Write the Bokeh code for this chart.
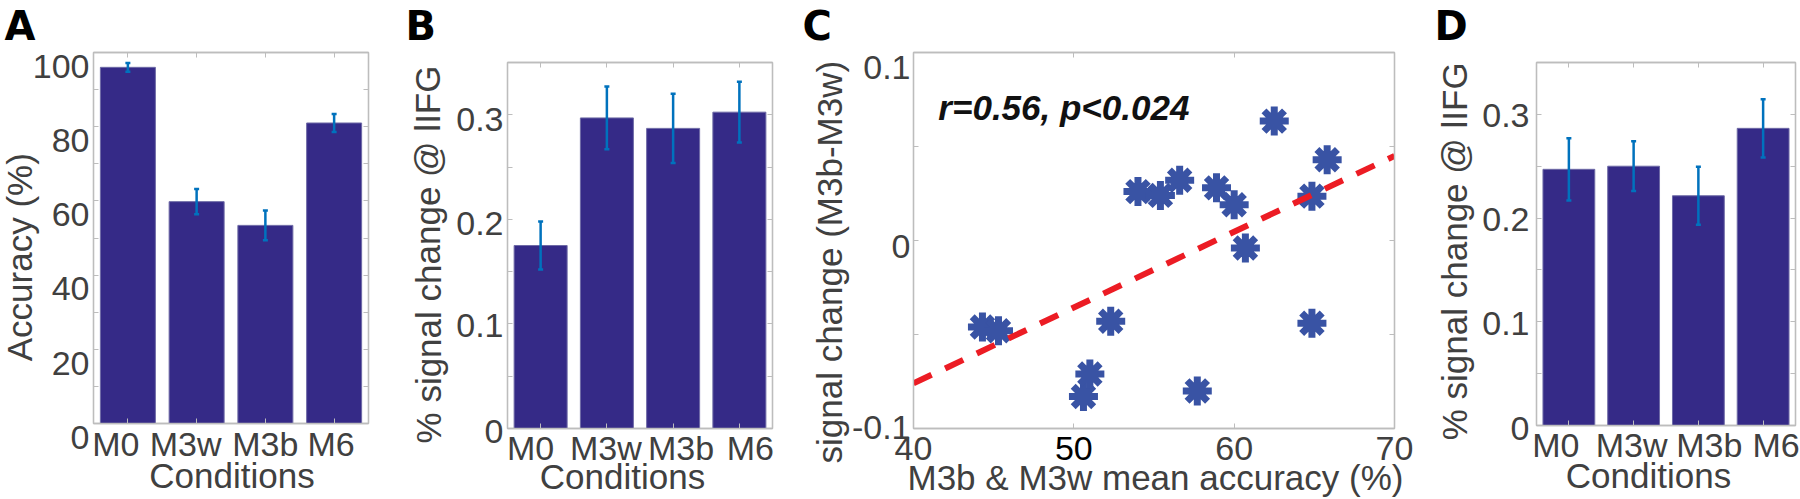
import math
from bokeh.plotting import figure
from bokeh.models import (Range1d, FixedTicker, LinearAxis, Label, LabelSet,
                          ColumnDataSource, Whisker, TeeHead, CustomJSTickFormatter,
                          GridBox)
from bokeh.layouts import row
from bokeh.embed import file_html
from bokeh.resources import INLINE

# ---------------- data ----------------
conditions = ["M0", "M3w", "M3b", "M6"]

accuracy_mean = [96.0, 59.8, 53.4, 81.0]
accuracy_err = [1.2, 3.4, 4.0, 2.4]

ifg_b_mean = [0.175, 0.297, 0.287, 0.3025]
ifg_b_err = [0.023, 0.030, 0.033, 0.029]

ifg_d_mean = [0.247, 0.250, 0.2215, 0.2865]
ifg_d_err = [0.030, 0.024, 0.028, 0.028]

scatter_acc = [44.3, 45.3, 50.6, 51.0, 52.3, 54.0, 55.4, 56.6, 57.7, 58.9,
               60.0, 60.7, 62.5, 64.85, 64.85, 65.8]
scatter_sig = [-0.046, -0.048, -0.083, -0.071, -0.043, 0.026, 0.024, 0.032,
               -0.080, 0.028, 0.019, -0.004, 0.0635, 0.0236, -0.044, 0.043]
fit_x = [40, 70]
fit_y = [-0.076, 0.045]

acc_ticks = [0, 20, 40, 60, 80, 100]
acc_minor = [10, 30, 50, 70, 90]
acc_labels = ["0", "20", "40", "60", "80", "100"]
sig_ticks = [0, 0.1, 0.2, 0.3]
sig_minor = [0.05, 0.15, 0.25]
sig_labels = ["0", "0.1", "0.2", "0.3"]
corr_x_ticks = [40, 50, 60, 70]
corr_x_labels = ["40", "50", "60", "70"]
corr_y_ticks = [-0.1, 0, 0.1]
corr_y_minor = [-0.05, 0.05]
corr_y_labels = ["-0.1", "0", "0.1"]
corr_text = "r=0.56, p<0.024"

# ---------------- style / layout ----------------
FONT = "Liberation Sans"
LETTER_FONT = "DejaVu Sans"
TXT = "#404040"
FRAME = "#bdbdbd"
BAR = "#352A87"
ERR = "#0072BD"
STAR = "#3953A4"
FIT = "#EC1C24"
TICK_FS = "34px"
LAB_FS = "35px"
LEFT, TOP = 0, 0          # page origin of the layout
W, H = 1800, 499          # overall size
CAP_MID = 12.2            # baseline -> middle of capitals at 34px

# page-pixel geometry: figure x-extent and frame (left, right, top, bottom)
GEO = {
    "A": dict(fig=(0, 395), frame=(93, 368, 52, 423)),
    "B": dict(fig=(395, 783), frame=(507, 772, 62, 428)),
    "C": dict(fig=(783, 1420), frame=(913, 1394, 52, 428)),
    "D": dict(fig=(1420, 1800), frame=(1536, 1795, 62, 425)),
}

ROWS = []   # all texts outside the plot frames, in page pixels


def make_fig(key, xr, yr):
    g = GEO[key]
    fx0, fx1 = g["fig"]
    l, r, t, b = g["frame"]
    p = figure(width=fx1 - fx0, height=H, x_range=xr, y_range=yr,
               output_backend="svg", toolbar_location=None, tools="",
               min_border_left=l - fx0, min_border_right=fx1 - r,
               min_border_top=t - TOP, min_border_bottom=TOP + H - b,
               frame_align=False)
    p.grid.visible = False
    p.outline_line_color = FRAME
    p.outline_line_width = 1.3
    p.background_fill_color = "white"
    p.border_fill_color = "white"
    return p


def style_axis(ax, ticker):
    ax.ticker = ticker
    ax.formatter = CustomJSTickFormatter(code="return ''")
    ax.major_label_text_color = None
    ax.major_label_standoff = 0
    ax.axis_line_color = FRAME
    ax.axis_line_width = 1.3
    ax.major_tick_line_color = FRAME
    ax.minor_tick_line_color = FRAME
    ax.major_tick_in = 5
    ax.major_tick_out = 0
    ax.minor_tick_in = 5
    ax.minor_tick_out = 0


def add_axes(p, xticker, yticker):
    style_axis(p.xaxis[0], xticker)
    style_axis(p.yaxis[0], yticker)
    top = LinearAxis()
    style_axis(top, xticker)
    p.add_layout(top, "above")
    right = LinearAxis()
    style_axis(right, yticker)
    p.add_layout(right, "right")


def add_text(x, y, text, size=LAB_FS, align="center", angle=0.0,
             font=FONT, style="normal", color=TXT):
    ROWS.append(dict(x=x, y=y, text=text, size=size, align=align,
                     angle=angle, font=font, style=style, color=color))


class Panel:
    def __init__(self, key, xr, yr):
        self.key, self.xr, self.yr = key, xr, yr

    def px(self, v):
        l, r, t, b = GEO[self.key]["frame"]
        return l + (v - self.xr[0]) / (self.xr[1] - self.xr[0]) * (r - l)

    def py(self, v):
        l, r, t, b = GEO[self.key]["frame"]
        return b - (v - self.yr[0]) / (self.yr[1] - self.yr[0]) * (b - t)

    def yticks(self, ticks, labels, shifts, gap=4):
        l = GEO[self.key]["frame"][0]
        for t, s, sh in zip(ticks, labels, shifts):
            add_text(l - gap, self.py(t) + sh + CAP_MID, s, size=TICK_FS,
                     align="right")

    def xticks(self, ticks, labels, baseline, offsets=None, colors=None):
        offsets = offsets or [0] * len(ticks)
        colors = colors or [TXT] * len(ticks)
        for t, s, o, c in zip(ticks, labels, offsets, colors):
            add_text(self.px(t) + o, baseline, s, size=TICK_FS, color=c)


def letter(x, y, text):
    add_text(x, y, text, size="40px", align="left", font=LETTER_FONT,
             style="bold", color="black")


def bar_panel(key, means, errs, ymax, yticks, yminor):
    xs = list(range(1, len(conditions) + 1))
    xr = (0.5, len(conditions) + 0.5)
    p = make_fig(key, Range1d(*xr), Range1d(0, ymax))
    p.vbar(x=xs, top=means, width=0.8, fill_color=BAR,
           line_color="#6e6aa6", line_width=1)
    src = ColumnDataSource(dict(base=xs,
                                upper=[m + e for m, e in zip(means, errs)],
                                lower=[m - e for m, e in zip(means, errs)]))
    p.add_layout(Whisker(base="base", upper="upper", lower="lower", source=src,
                         level="annotation", line_color=ERR, line_width=2.5,
                         upper_head=TeeHead(size=5, line_color=ERR, line_width=2.5),
                         lower_head=TeeHead(size=5, line_color=ERR, line_width=2.5)))
    add_axes(p, FixedTicker(ticks=xs), FixedTicker(ticks=yticks, minor_ticks=yminor))
    return p, Panel(key, xr, (0, ymax)), xs


# ---------------- panel A ----------------
pA, tA, xsA = bar_panel("A", accuracy_mean, accuracy_err, 100, acc_ticks, acc_minor)
tA.yticks(acc_ticks, acc_labels, [13] * len(acc_ticks))
tA.xticks(xsA, conditions, 455, offsets=[-12, -11, 0, -3])
add_text(32, 256.7, "Accuracy (%)", angle=math.pi / 2)
add_text(231.5, 487, "Conditions")
letter(4, 39, "A")

# ---------------- panel B ----------------
pB, tB, xsB = bar_panel("B", ifg_b_mean, ifg_b_err, 0.35, sig_ticks, sig_minor)
tB.yticks(sig_ticks, sig_labels, [2, 1, 3, 4])
tB.xticks(xsB, conditions, 459, offsets=[-10, -1, 8, 11])
add_text(440, 254, "% signal change @ lIFG", angle=math.pi / 2)
add_text(622, 488, "Conditions")
letter(405, 39, "B")

# ---------------- panel C ----------------
cxr, cyr = (40, 70), (-0.1, 0.1)
pC = make_fig("C", Range1d(*cxr), Range1d(*cyr))
pC.scatter(scatter_acc, scatter_sig, marker="asterisk", size=29,
           line_color=STAR, line_width=7)
pC.line(fit_x, fit_y, line_color=FIT, line_width=6, line_dash="20 15")
add_axes(pC, FixedTicker(ticks=corr_x_ticks),
         FixedTicker(ticks=corr_y_ticks, minor_ticks=corr_y_minor))
pC.add_layout(Label(x=41.55, y=0.071, text=corr_text, text_font=FONT,
                    text_font_size="35px", text_font_style="bold italic",
                    text_color="#111111", text_baseline="alphabetic"))
tC = Panel("C", cxr, cyr)
tC.yticks(corr_y_ticks, corr_y_labels, [-2, 5, 14], gap=3)
tC.xticks(corr_x_ticks, corr_x_labels, 459, colors=[TXT, "#000000", TXT, TXT])
add_text(842, 261.7, "signal change (M3b-M3w)", angle=math.pi / 2)
add_text(1155, 489, "M3b & M3w mean accuracy (%)")
letter(802, 39.5, "C")

# ---------------- panel D ----------------
pD, tD, xsD = bar_panel("D", ifg_d_mean, ifg_d_err, 0.35, sig_ticks, sig_minor)
tD.yticks(sig_ticks, sig_labels, [2, 1, 1, 0], gap=7)
tD.xticks(xsD, conditions, 456.5, offsets=[-13, -2, 11, 13])
add_text(1466.7, 250.8, "% signal change @ lIFG", angle=math.pi / 2)
add_text(1648, 487, "Conditions")
letter(1434, 39, "D")

# ---------------- transparent text overlay ----------------
overlay = figure(width=W, height=H, x_range=Range1d(0, W), y_range=Range1d(H, 0),
                 output_backend="svg", toolbar_location=None, tools="",
                 x_axis_type=None, y_axis_type=None, min_border=0,
                 frame_align=False)
overlay.grid.visible = False
overlay.outline_line_color = None
overlay.background_fill_color = None
overlay.border_fill_color = None
src = ColumnDataSource(dict(
    x=[r["x"] - LEFT for r in ROWS], y=[r["y"] - TOP for r in ROWS],
    text=[r["text"] for r in ROWS], t_size=[r["size"] for r in ROWS],
    t_align=[r["align"] for r in ROWS], t_angle=[r["angle"] for r in ROWS],
    t_font=[r["font"] for r in ROWS], t_style=[r["style"] for r in ROWS],
    t_color=[r["color"] for r in ROWS]))
overlay.add_layout(LabelSet(x="x", y="y", text="text", source=src,
                            x_units="canvas", y_units="canvas",
                            text_font="t_font", text_font_size="t_size",
                            text_font_style="t_style", text_color="t_color",
                            text_align="t_align", text_baseline="alphabetic",
                            angle="t_angle"))

charts = row(pA, pB, pC, pD, spacing=0)
page = GridBox(children=[(charts, 0, 0), (overlay, 0, 0)])
open("out.html", "w").write(file_html(page, INLINE))
